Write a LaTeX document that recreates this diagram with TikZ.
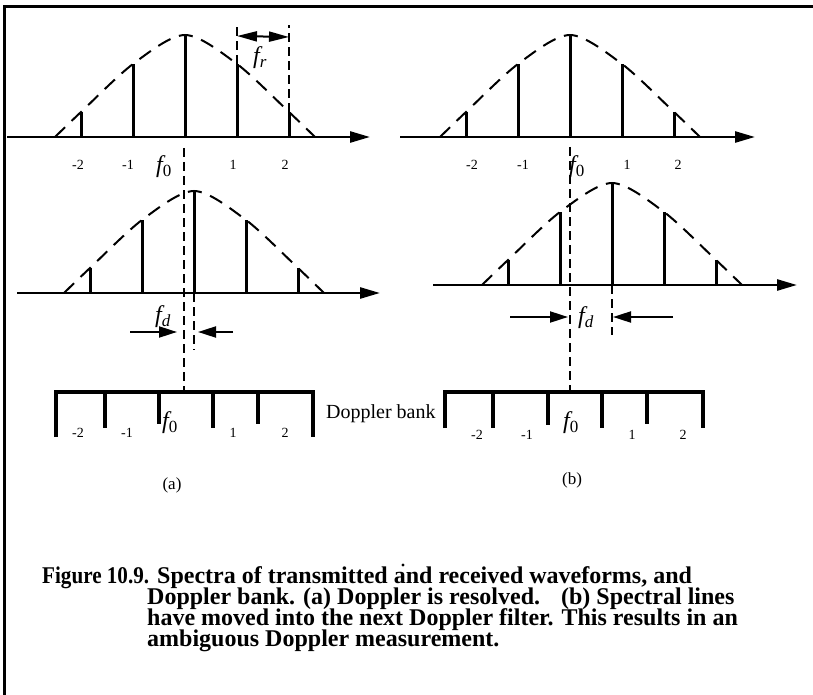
\documentclass[tikz,border=0pt]{standalone}
\usepackage{fontspec}
\usepackage{graphicx}
\setmainfont{Liberation Serif}
\usetikzlibrary{arrows.meta}
\newcommand{\freq}[1]{{\fontsize{24}{24}\selectfont\itshape f}\raisebox{-4pt}{\fontsize{17}{17}\selectfont #1}}
\newcommand{\spectrum}[4]{%
  \begin{scope}[shift={#2}]
    \draw[axis] (#3,0) -- (#4,0);
    \draw[envelope] plot[smooth] coordinates {(-130,0) (-104,-25) (-52,-73) (0,-102) (52,-73) (104,-25) (130,0)};
    \foreach \i/\h in {-2/25,-1/73,0/102,1/73,2/25}
      \draw[spike] ({\i*52},0) coordinate (#1\i) -- ({\i*52},-\h) coordinate (#1top\i);
  \end{scope}}

\begin{document}
\begin{tikzpicture}[x=1pt, y=-1pt,
    axis/.style={line width=2.5pt, -{Triangle[length=20pt, width=11pt]}},
    spike/.style={line width=3pt},
    envelope/.style={line width=2pt, dash pattern=on 14pt off 9pt},
    guide/.style={line width=2pt, dash pattern=on 9pt off 5pt},
    bankline/.style={line width=3.2pt},
    dimarrow/.style={line width=2pt, -{Triangle[length=18pt, width=11pt]}},
    frarrow/.style={line width=2pt, {Triangle[length=20pt, width=10pt]}-{Triangle[length=20pt, width=10pt]}},
    num/.style={font=\fontsize{14}{14}\selectfont, inner sep=0pt},
    flabel/.style={inner sep=0pt, anchor=base west},
    caption/.style={font=\bfseries\fontsize{24}{21}\selectfont, inner sep=0pt, anchor=base west}]
  \useasboundingbox (0,0) rectangle (813,695);
  \draw[line width=3pt] (4,695) -- (4,7) -- (813,7);

  \spectrum{tl}{(185,137)}{-178}{185}
  \spectrum{tr}{(570,137)}{-170}{185}
  \spectrum{ml}{(194,293)}{-177}{186}
  \spectrum{mr}{(612,285)}{-179}{185}

  \foreach \x/\t [count=\n] in {78/-2,128/-1,233/1,285/2}
    \node[num] (tln\n) at (\x,165) {\t};
  \foreach \x/\t [count=\n] in {472/-2,523/-1,627/1,678/2}
    \node[num] (trn\n) at (\x,165) {\t};
  \node[flabel] (tlf) at (156,172) {\freq{0}};
  \node[flabel] (trf) at (569,172) {\freq{0}};

  \draw[guide] (tltop1) -- ++(0,-40) coordinate (fra);
  \draw[guide] (tltop2) -- ++(0,-87) coordinate (frb);
  \draw[frarrow] ([yshift=-12pt]fra) -- ([yshift=-12pt]frb);
  \node[flabel] (frlabel) at (253,64) {\freq{\itshape r}};

  \draw[bankline] (56,437) -- (56,392) coordinate (bankl) -- (313,392) -- (313,437);
  \foreach \x/\b in {105/428,159/424,213/428,258/424}
    \draw[bankline] (\x,392) -- (\x,\b);
  \draw[bankline] (445,428) -- (445,392) coordinate (bankr) -- (703,392) -- (703,428);
  \foreach \x/\b in {493/428,548/425,602/428,647/424}
    \draw[bankline] (\x,392) -- (\x,\b);

  \coordinate (ga) at (184,148);
  \coordinate (gb) at (570,147);
  \draw[guide] (ga) -- (ga |- bankl);
  \draw[guide] (gb) -- (gb |- bankr);
  \draw[guide] (ml0) -- ++(0,57);
  \draw[guide] (mr0) -- ++(0,50);

  \path (130,332) coordinate (fdl1) (177,332) coordinate (fdl2)
        (233,332) coordinate (fdl3) (198,332) coordinate (fdl4);
  \draw[dimarrow] (fdl1) -- (fdl2);
  \draw[dimarrow] (fdl3) -- (fdl4);
  \node[flabel] (fdl) at (155,322) {\freq{\itshape d}};
  \path (510,317) coordinate (fdr1) (568,317) coordinate (fdr2)
        (673,317) coordinate (fdr3) (613,317) coordinate (fdr4);
  \draw[dimarrow] (fdr1) -- (fdr2);
  \draw[dimarrow] (fdr3) -- (fdr4);
  \node[flabel] (fdr) at (578,323) {\freq{\itshape d}};

  \foreach \x/\t [count=\n] in {78/-2,127/-1,233/1,285/2}
    \node[num] (bln\n) at (\x,433) {\t};
  \foreach \x/\t [count=\n] in {477/-2,527/-1,632/1,683/2}
    \node[num] (brn\n) at (\x,435) {\t};
  \node[flabel] (blf) at (162,428) {\freq{0}};
  \node[flabel] (brf) at (563,428) {\freq{0}};
  \node[anchor=base west, inner sep=0pt, font=\fontsize{20}{20}\selectfont] (bankname) at (326,418) {Doppler bank};
  \node[font=\fontsize{17}{17}\selectfont] (capa) at (172,485) {(a)};
  \node[font=\fontsize{17}{17}\selectfont] (capb) at (572,480) {(b)};

  \fill (403,565) circle (1.6);
  \node[caption] (capfig) at (42,583) {\scalebox{0.88}[1]{Figure 10.9.}};
  \node[caption] (capline1) at (157,583) {Spectra of transmitted and received waveforms, and};
  \foreach \txt [count=\n from 2] in {{Doppler bank. (a) Doppler is resolved.\hspace{13pt} (b) Spectral lines},
      {have moved into the next Doppler filter. This results in an},
      {ambiguous Doppler measurement.}}
    \node[caption] (capline\n) at (147,{561.7+21.3*\n}) {\txt};
\end{tikzpicture}
\end{document}
